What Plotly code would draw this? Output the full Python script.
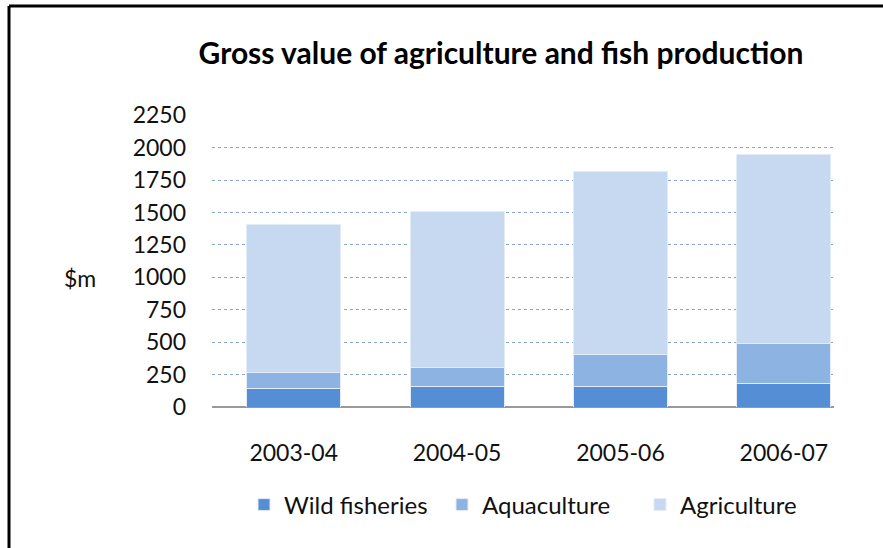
import plotly.graph_objects as go

categories = ["2003-04", "2004-05", "2005-06", "2006-07"]
wild_fisheries = [142, 162, 162, 180]
aquaculture = [126, 140, 245, 307]
agriculture = [1142, 1208, 1410, 1459]
y_ticks = [0, 250, 500, 750, 1000, 1250, 1500, 1750, 2000, 2250]

FONT = "Lato"
W, H = 883, 548
L, R, T, B = 212, 834, 115, 407

fig = go.Figure()
series = [
    ("Wild fisheries", wild_fisheries, "#558ED5"),
    ("Aquaculture", aquaculture, "#8DB3E2"),
    ("Agriculture", agriculture, "#C6D9F1"),
]
for name, vals, col in series:
    fig.add_trace(go.Bar(
        x=categories, y=vals, name=name,
        marker=dict(color=col, line=dict(color="#E4ECF7", width=1)),
    ))

pw = R - L
ph = B - T
def px_x(x):
    return (x - L) / pw
def px_y(y):
    return (B - y) / ph

fig.update_layout(
    width=W, height=H,
    margin=dict(l=L, r=W - R, t=T, b=H - B, autoexpand=False),
    barmode="stack",
    bargap=0.424,
    plot_bgcolor="white",
    paper_bgcolor="white",
    font=dict(family=FONT, size=23, color="#111111"),
    title=dict(
        text="Gross value of agriculture and fish production",
        font=dict(family=FONT, size=30, color="#000000", weight="bold"),
        x=501 / W, xanchor="center", xref="container",
        y=1 - 53 / H, yanchor="middle", yref="container",
    ),
    xaxis=dict(
        type="category",
        range=[-0.5, 3.307],
        showgrid=False,
        showline=False,
        ticks="",
        ticklabelstandoff=30,
        tickfont=dict(family=FONT, size=23, color="#111111"),
    ),
    yaxis=dict(
        range=[0, 2253],
        tickvals=y_ticks,
        showgrid=True,
        gridcolor="#8AA6D6",
        griddash="dot",
        gridwidth=1,
        zeroline=True,
        zerolinecolor="#999999",
        zerolinewidth=2,
        ticks="",
        ticklabelstandoff=25,
        tickfont=dict(family=FONT, size=23, color="#111111"),
    ),
    legend=dict(
        orientation="h",
        x=244 / W, xanchor="left", xref="container",
        y=1 - 505 / H, yanchor="middle", yref="container",
        font=dict(family=FONT, size=24, color="#111111"),
        traceorder="normal",
        itemwidth=30,
        entrywidth=153,
        entrywidthmode="pixels",
        bgcolor="rgba(0,0,0,0)",
    ),
    annotations=[dict(
        text="$m", xref="paper", yref="paper",
        x=px_x(80), y=px_y(278), xanchor="center", yanchor="middle",
        showarrow=False, font=dict(family=FONT, size=23, color="#111111"),
    )],
    shapes=[
        dict(type="line", xref="paper", yref="paper",
             x0=px_x(9), x1=px_x(W + 20), y0=px_y(6), y1=px_y(6),
             line=dict(color="black", width=3)),
        dict(type="line", xref="paper", yref="paper",
             x0=px_x(9), x1=px_x(9), y0=px_y(6), y1=px_y(H + 20),
             line=dict(color="black", width=3)),
    ],
)

fig.write_html("out.html", config={"displayModeBar": False},
               post_script="document.body.style.margin='0';")
